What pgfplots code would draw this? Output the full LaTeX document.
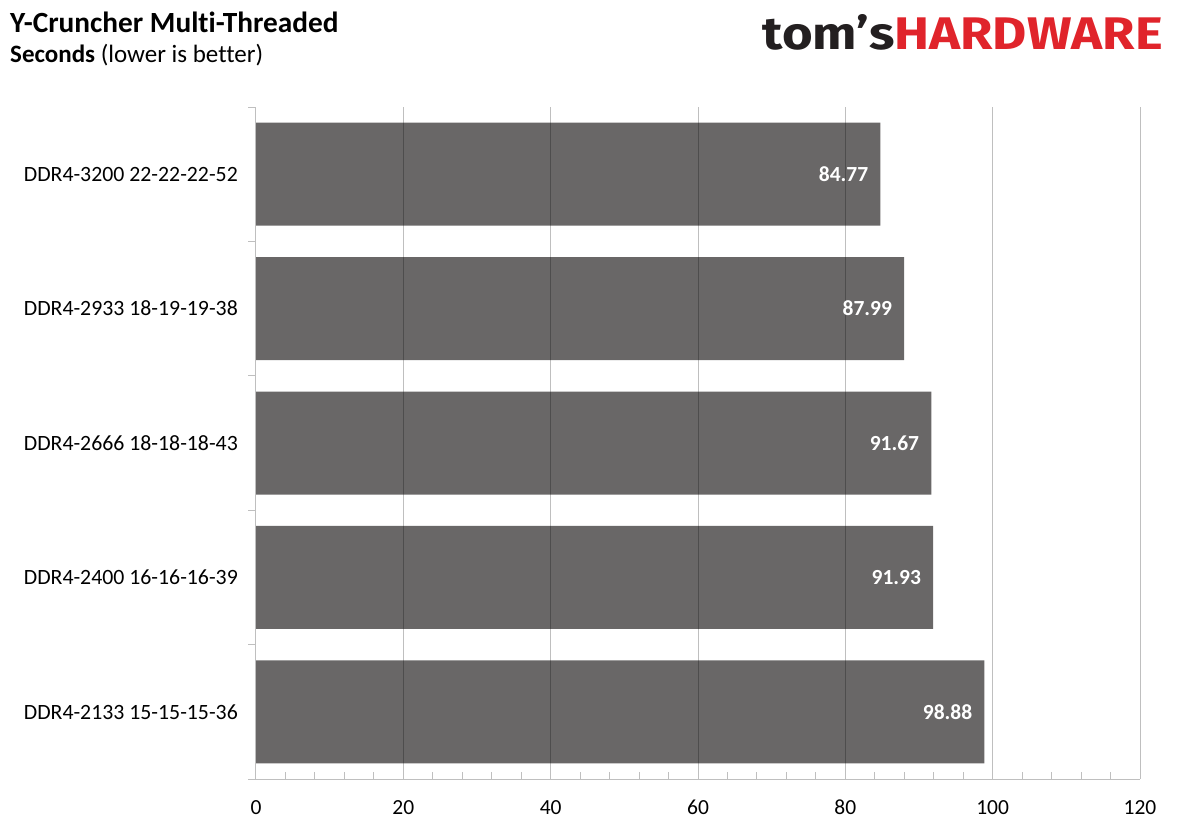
\documentclass[border=0pt]{standalone}
\usepackage{fontspec}
\setmainfont{Carlito}[Ligatures={TeX,NoCommon}]
\newfontfamily\logofont{Fira Sans}
\usepackage{pgfplots}
\pgfplotsset{compat=1.18}
\definecolor{barcol}{RGB}{105,103,103}
\definecolor{tomsdark}{RGB}{35,31,32}
\definecolor{tomsred}{RGB}{224,36,43}
\definecolor{axgray}{RGB}{191,191,191}

\begin{document}
\begin{tikzpicture}[x=1pt,y=1pt]
\path[use as bounding box] (0,0) rectangle (1179,833);

% titles and logo
\node[anchor=base west, inner sep=0pt, font=\fontsize{29.3}{34}\selectfont\bfseries] at (10,800) {Y-Cruncher Multi-Threaded};
\node[anchor=base west, inner sep=0pt, font=\fontsize{25}{29}\selectfont] at (10,770) {\textbf{Seconds} (lower is better)};
\node[anchor=base east, inner sep=0pt] at (1163,783) {\resizebox{400pt}{35pt}{\logofont\bfseries\textcolor{tomsdark}{tom’s}\textcolor{tomsred}{HARDWARE}}};

\begin{axis}[
    at={(256pt,54pt)}, anchor=south west,
    scale only axis,
    width=884pt, height=672pt,
    xbar, bar width=103pt,
    xmin=0, xmax=120,
    ymin=-0.5, ymax=4.5,
    y dir=reverse,
    axis x line*=bottom, axis y line*=left,
    axis line style={draw=axgray, line width=1pt, -},
    xtick={0,20,...,120},
    minor x tick num=4,
    ytick={0,1,2,3,4},
    yticklabels={DDR4-3200 22-22-22-52, DDR4-2933 18-19-19-38, DDR4-2666 18-18-18-43, DDR4-2400 16-16-16-39, DDR4-2133 15-15-15-36},
    major tick length=0pt,
    minor tick length=7pt,
    tick align=inside,
    tick style={draw=axgray, line width=1pt},
    xmajorgrids=true,
    major grid style={draw=black, draw opacity=0.25, line width=1pt},
    axis on top,
    extra y ticks={-0.5,0.5,1.5,2.5,3.5,4.5},
    extra y tick labels={},
    extra y tick style={tick align=outside, major tick length=8pt, grid=none},
    tick label style={font=\fontsize{21.5}{26}\selectfont},
    /pgf/number format/assume math mode=true,
    xticklabel style={anchor=base, yshift=-35pt},
    yticklabel style={anchor=east, inner sep=0pt, xshift=-18pt, font=\fontsize{21.8}{26}\selectfont},
    nodes near coords,
    point meta=explicit symbolic,
    nodes near coords style={anchor=east, inner sep=0pt, xshift=-12pt, text=white, font=\fontsize{21.5}{26}\selectfont\bfseries},
]
\addplot[fill=barcol, draw=none] coordinates {
    (84.77,0) [84.77]
    (87.99,1) [87.99]
    (91.67,2) [91.67]
    (91.93,3) [91.93]
    (98.88,4) [98.88]
};
\end{axis}
\end{tikzpicture}
\end{document}
